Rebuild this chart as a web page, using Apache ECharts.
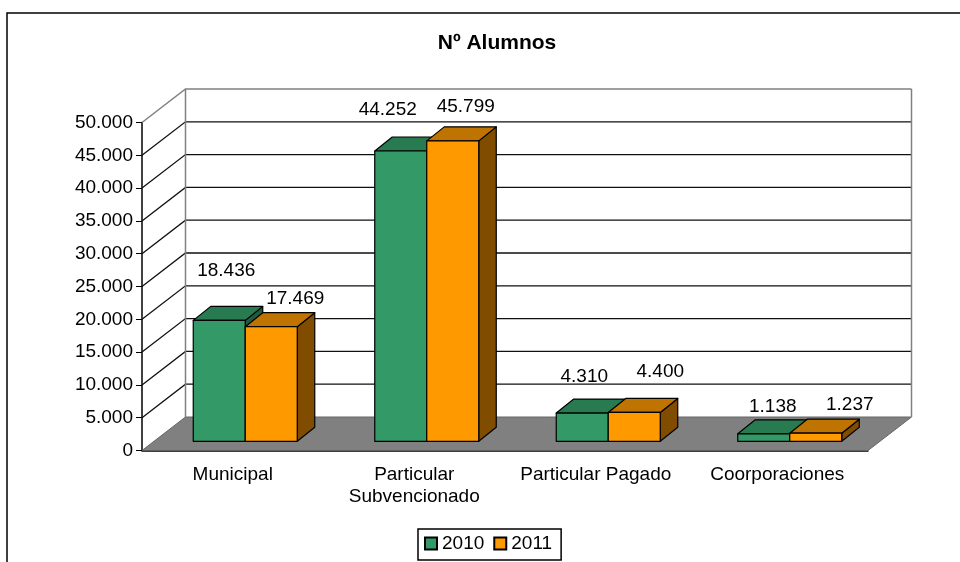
<!DOCTYPE html>
<html>
<head>
<meta charset="utf-8">
<style>html,body{margin:0;padding:0;background:#fff}#chart{width:960px;height:562px}</style>
<script src="https://cdn.jsdelivr.net/npm/echarts@6/dist/echarts.min.js"></script>
</head>
<body>
<div id="chart"></div>
<script>
var categories = ['Municipal', 'Particular\nSubvencionado', 'Particular Pagado', 'Coorporaciones'];
var values2010 = [18436, 44252, 4310, 1138];
var values2011 = [17469, 45799, 4400, 1237];
var yTicks = [0, 5000, 10000, 15000, 20000, 25000, 30000, 35000, 40000, 45000, 50000];

// look of the fake 3d box, in pixels
var wallDx = 43.5, wallDy = -33.5;
var barDx = 17.5, barDy = -14;
var barShiftX = 12.5, barShiftY = -9.2;
var barWidth = 52;
var labelOffset2010 = [[7, -50], [-13, -41], [2, -36], [9, -27]];
var labelOffset2011 = [[24, -28], [13, -34], [26, -41], [34, -28]];

function fmt(v) {
	return String(v).replace(/\B(?=(\d{3})+$)/g, '.');
}

function wallItem(params, api) {
	var v = api.value(0);
	var p = api.coord([0, v]);
	var s = params.coordSys;
	var x0 = s.x, x1 = s.x + s.width, y = p[1];
	var bx = x0 + wallDx, by = y + wallDy;
	var children = [];
	if (v === 0) {
		children.push({
			type: 'polygon', z2: 1,
			shape: {points: [[x0, y], [x1, y], [x1 + wallDx, by], [bx, by]]},
			style: {fill: '#808080', stroke: 'none'}
		});
		children.push({
			type: 'polyline', z2: 2,
			shape: {points: [[x0, y], [bx, by], [x1 + wallDx, by], [x1, y]]},
			style: {fill: 'none', stroke: '#666', lineWidth: 1}
		});
		return {type: 'group', children: children};
	}
	var top = v === yTicks[yTicks.length - 1];
	children.push({
		type: 'polyline', z2: 2,
		shape: {points: [[x0, y], [bx, by], [x1 + wallDx, by]]},
		style: {fill: 'none', stroke: top ? '#808080' : '#111', lineWidth: top ? 1.5 : 1.3}
	});
	if (top) {
		// back corners of the walls
		var floorY = api.coord([0, 0])[1] + wallDy;
		children.push({
			type: 'line', z2: 2,
			shape: {x1: bx, y1: by, x2: bx, y2: floorY},
			style: {stroke: '#808080', lineWidth: 1.5}
		});
		children.push({
			type: 'line', z2: 2,
			shape: {x1: x1 + wallDx, y1: by, x2: x1 + wallDx, y2: floorY},
			style: {stroke: '#808080', lineWidth: 1.5}
		});
	}
	return {type: 'group', children: children};
}

function barRenderer(side, front, roof, flank, offsets) {
	return function(params, api) {
		var i = api.value(0), v = api.value(1);
		var base = api.coord([i, 0]), head = api.coord([i, v]);
		var x0 = base[0] + barShiftX + (side < 0 ? -barWidth : 0);
		var x1 = x0 + barWidth;
		var y0 = base[1] + barShiftY, y1 = head[1] + barShiftY;
		var style = {stroke: '#000', lineWidth: 1.2, lineJoin: 'round'};
		return {type: 'group', children: [
			{type: 'polygon', z2: 3, shape: {points: [[x1, y0], [x1 + barDx, y0 + barDy], [x1 + barDx, y1 + barDy], [x1, y1]]}, style: Object.assign({fill: flank}, style)},
			{type: 'polygon', z2: 3, shape: {points: [[x0, y1], [x1, y1], [x1 + barDx, y1 + barDy], [x0 + barDx, y1 + barDy]]}, style: Object.assign({fill: roof}, style)},
			{type: 'rect', z2: 3, shape: {x: x0, y: y1, width: barWidth, height: y0 - y1}, style: Object.assign({fill: front}, style)},
			{type: 'text', z2: 5, style: {
				x: (x0 + x1) / 2 + offsets[i][0], y: y1 + offsets[i][1],
				text: fmt(v), align: 'center', verticalAlign: 'middle',
				font: '19px "Liberation Sans"', fill: '#000'
			}}
		]};
	};
}

var chart = echarts.init(document.getElementById('chart'));
var option = {
	animation: false,
	backgroundColor: '#fff',
	textStyle: {fontFamily: 'Liberation Sans'},
	title: {
		text: 'Nº Alumnos', left: 492, top: 28, textAlign: 'center',
		textStyle: {fontSize: 21, fontWeight: 'bold', color: '#000', fontFamily: 'Liberation Sans'}
	},
	legend: {
		data: ['2010', '2011'],
		left: 418, top: 529,
		padding: [5, 9, 7, 6],
		icon: 'rect',
		itemWidth: 12, itemHeight: 12, itemGap: 9,
		borderColor: '#000', borderWidth: 1.5,
		textStyle: {fontSize: 19, color: '#000', padding: [0, 0, 0, 0]},
		selectedMode: false
	},
	grid: {left: 142, right: 92, top: 122.5, height: 328},
	xAxis: {
		type: 'category',
		data: categories,
		axisLine: {lineStyle: {color: '#000', width: 1.5}},
		axisTick: {length: 6, lineStyle: {color: '#000'}},
		axisLabel: {color: '#000', fontSize: 19, margin: 13, lineHeight: 22, interval: 0}
	},
	yAxis: {
		type: 'value',
		min: 0, max: 50000, interval: 5000,
		axisLine: {show: true, lineStyle: {color: '#000', width: 1.5}},
		axisTick: {show: true, length: 6, lineStyle: {color: '#000'}},
		splitLine: {show: false},
		axisLabel: {color: '#000', fontSize: 19, margin: 9, formatter: fmt}
	},
	graphic: [{
		type: 'polyline', silent: true, z: -1,
		shape: {points: [[7, 600], [7, 13], [970, 13]]},
		style: {fill: 'none', stroke: '#000', lineWidth: 1.5}
	}],
	series: [
		{
			name: 'walls', type: 'custom', coordinateSystem: 'cartesian2d', silent: true, z: 1,
			renderItem: wallItem, encode: {y: 0},
			data: yTicks.map(function(v) { return [v]; })
		},
		{
			name: '2010', type: 'custom', z: 3,
			itemStyle: {color: '#339966', borderColor: '#000', borderWidth: 1},
			renderItem: barRenderer(-1, '#339966', '#287A51', '#1F5C3D', labelOffset2010),
			encode: {x: 0, y: 1},
			data: values2010.map(function(v, i) { return [i, v]; })
		},
		{
			name: '2011', type: 'custom', z: 4,
			itemStyle: {color: '#FF9900', borderColor: '#000', borderWidth: 1},
			renderItem: barRenderer(1, '#FF9900', '#BF7300', '#7F4C00', labelOffset2011),
			encode: {x: 0, y: 1},
			data: values2011.map(function(v, i) { return [i, v]; })
		}
	]
};
chart.setOption(option);
</script>
</body>
</html>
